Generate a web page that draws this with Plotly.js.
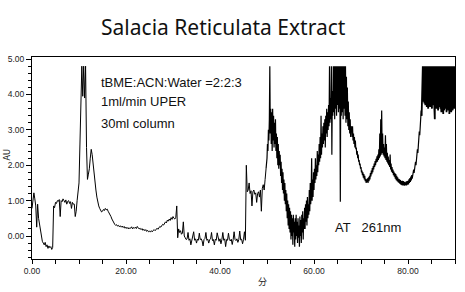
<!DOCTYPE html>
<html>
<head>
<meta charset="utf-8">
<script src="https://cdn.plot.ly/plotly-3.0.1.min.js"></script>
<style>
html,body{margin:0;padding:0;background:#fff;}
#chart{width:465px;height:292px;}
</style>
</head>
<body>
<div id="chart"></div>
<script>
// Tick values
var xTickValues = [0, 20, 40, 60, 80];
var yTickValues = [0, 1, 2, 3, 4, 5];

// Segment 1: 0.0 .. 49.8 min, one reading every 0.2 min (AU at 261 nm)
var seg1Start = 0, seg1Step = 0.2;
var absorbance1 = [
 0.78, 0.95, 1.22, 1.05, 0.85,   // 0
 0.25, 0.90, 0.50, 0.35, 0.10,   // 1
 -0.05, -0.15, -0.20, -0.25, -0.18, // 2
 -0.30, -0.25, -0.35, -0.28, -0.33, // 3
 -0.30, -0.38, -0.32, 0.85, 0.80, // 4
 0.95, 0.92, 1.00, 0.98, 1.03,   // 5
 0.55, 1.00, 0.97, 1.05, 1.00,   // 6
 0.95, 1.02, 0.90, 0.98, 1.00,   // 7
 0.92, 0.97, 0.78, 0.95, 0.90,   // 8
 0.90, 0.55, 0.70, 1.00, 1.35,   // 9
 1.50, 2.60, 3.90, 4.80, 3.95,   // 10
 4.80, 3.90, 4.80, 2.50, 1.60,   // 11
 1.75, 1.90, 2.20, 2.45, 2.30,   // 12
 2.00, 1.75, 1.50, 1.30, 1.10,   // 13
 0.95, 0.85, 0.78, 0.72, 0.68,   // 14
 0.70, 0.75, 0.72, 0.78, 0.74,   // 15
 0.76, 0.70, 0.66, 0.60, 0.55,   // 16
 0.48, 0.42, 0.38, 0.33, 0.30,   // 17
 0.32, 0.28, 0.30, 0.26, 0.29,   // 18
 0.25, 0.28, 0.24, 0.27, 0.22,   // 19
 0.25, 0.21, 0.24, 0.20, 0.23,   // 20
 0.22, 0.26, 0.20, 0.24, 0.22,   // 21
 0.25, 0.21, 0.27, 0.23, 0.20,   // 22
 0.22, 0.18, 0.21, 0.16, 0.19,   // 23
 0.15, 0.18, 0.13, 0.16, 0.12,   // 24
 0.14, 0.11, 0.15, 0.12, 0.16,   // 25
 0.18, 0.15, 0.20, 0.22, 0.19,   // 26
 0.24, 0.27, 0.25, 0.30, 0.33,   // 27
 0.31, 0.36, 0.40, 0.37, 0.45,   // 28
 0.42, 0.48, 0.44, 0.52, 0.47,   // 29
 0.55, 0.50, 0.48, 0.53, 0.85,   // 30
 -0.05, 0.20, 0.10, 0.15, 0.05,  // 31
 0.08, 0.40, 0.00, -0.05, -0.10, // 32
 -0.08, 0.10, -0.12, -0.08, -0.25, // 33
 -0.10, -0.06, 0.12, -0.12, -0.08, // 34
 -0.20, -0.09, -0.12, 0.08, -0.10, // 35
 -0.08, -0.14, -0.28, -0.10, -0.07, // 36
 0.10, -0.12, -0.09, -0.20, -0.10, // 37
 -0.08, 0.10, -0.13, -0.10, -0.25, // 38
 -0.09, -0.12, 0.09, -0.10, -0.15, // 39
 -0.08, -0.22, -0.10, 0.10, -0.12, // 40
 -0.08, -0.30, -0.10, -0.12, 0.08, // 41
 -0.10, -0.14, -0.09, -0.24, -0.10, // 42
 0.12, -0.10, -0.13, -0.08, -0.18, // 43
 -0.10, 0.14, -0.11, -0.09, -0.22, // 44
 -0.10, 0.12, -0.12, 2.00, 1.25, // 45
 1.30, 1.50, 1.20, 1.28, 0.85,   // 46
 1.25, 1.30, 1.18, 1.22, 0.95,   // 47
 1.20, 1.25, 1.10, 1.30, 0.70,   // 48
 1.35, 1.45, 1.30, 1.60, 1.90    // 49
];

// Segment 2: 49.8 .. 67.9 min, one reading every 0.1 min
var seg2Start = 49.8, seg2Step = 0.1;
var absorbance2 = [
 1.90, 2.05,                                           // 49.8
 2.20, 2.60, 2.40, 3.00, 2.70, 3.30, 4.80, 2.90, 3.60, 2.60, // 50
 3.50, 2.40, 3.60, 2.70, 3.40, 2.50, 3.20, 2.60, 3.30, 2.40, // 51
 2.90, 2.20, 2.80, 2.00, 2.60, 1.90, 2.40, 2.00, 2.30, 1.70, // 52
 2.10, 1.50, 1.90, 1.30, 1.80, 1.20, 1.60, 1.00, 1.50, 0.90, // 53
 1.30, 0.70, 1.20, 0.50, 1.00, 0.30, 0.90, 0.20, 0.80, 0.10, // 54
 0.70, -0.10, 0.60, 0.00, 0.50, -0.25, 0.60, 0.10, 0.40, -0.30, // 55
 0.50, -0.10, 0.60, 0.00, 0.40, -0.20, 0.50, -0.05, 0.30, -0.30, // 56
 0.55, 0.00, 0.45, -0.20, 0.60, 0.10, 0.70, -0.10, 0.50, 0.20, // 57
 0.80, 0.20, 0.90, 0.40, 1.00, 0.30, 1.10, 0.50, 0.90, 0.60, // 58
 1.30, 0.70, 1.50, 0.90, 1.20, 2.20, 1.00, 1.60, 1.10, 1.80, // 59
 1.30, 1.90, 1.50, 2.20, 1.60, 2.00, 1.70, 2.40, 1.80, 2.30, // 60
 2.00, 2.60, 2.10, 2.80, 2.20, 3.40, 2.30, 2.90, 2.50, 3.10, // 61
 2.60, 3.20, 2.70, 3.30, 2.50, 3.40, 2.90, 3.60, 2.80, 3.50, // 62
 3.00, 3.70, 3.10, 4.80, 3.20, 3.90, 3.30, 4.80, 2.30, 4.10, // 63
 3.40, 4.80, 3.50, 4.80, 3.30, 4.80, 3.60, 4.80, 3.40, 4.80, // 64
 3.70, 4.80, 3.50, 4.80, 3.60, 4.80, 0.97, 4.80, 3.40, 4.80, // 65
 3.50, 4.80, 3.30, 4.80, 3.60, 4.80, 3.40, 4.80, 3.20, 4.50, // 66
 3.30, 4.20, 3.10, 3.80, 3.00, 3.50, 2.90, 3.30, 2.80, 3.10  // 67
];

// Segment 3: 67.9 .. 82.9 min, one reading every 0.1 min
var seg3Start = 67.9, seg3Step = 0.1;
var absorbance3 = [
 3.10,                                                       // 67.9
 3.00, 2.80, 3.10, 2.70, 2.90, 2.60, 2.80, 2.50, 2.70, 2.45, // 68
 2.50, 2.30, 2.40, 2.20, 2.30, 2.10, 2.15, 2.00, 2.05, 1.90, // 69
 1.95, 1.80, 1.85, 1.72, 1.80, 1.65, 1.75, 1.60, 1.70, 1.55, // 70
 1.62, 1.50, 1.60, 1.52, 1.63, 1.50, 1.66, 1.55, 1.70, 1.60, // 71
 1.78, 1.68, 1.85, 1.75, 1.92, 1.80, 1.98, 1.88, 2.05, 1.95, // 72
 2.12, 2.00, 2.18, 2.08, 2.25, 2.10, 2.30, 2.15, 2.45, 2.20, // 73
 2.90, 2.25, 3.30, 2.30, 3.55, 2.35, 2.90, 2.30, 2.60, 2.25, // 74
 2.50, 2.20, 2.85, 2.15, 2.60, 2.10, 2.35, 2.05, 2.25, 2.00, // 75
 2.15, 1.95, 2.30, 1.88, 2.05, 1.82, 1.95, 1.78, 1.88, 1.72, // 76
 1.82, 1.68, 1.78, 1.62, 1.75, 1.58, 1.70, 1.55, 1.66, 1.52, // 77
 1.62, 1.50, 1.60, 1.47, 1.58, 1.45, 1.55, 1.44, 1.56, 1.43, // 78
 1.55, 1.43, 1.53, 1.42, 1.52, 1.44, 1.54, 1.43, 1.55, 1.45, // 79
 1.56, 1.46, 1.60, 1.50, 1.64, 1.53, 1.68, 1.57, 1.72, 1.62, // 80
 1.80, 1.70, 1.88, 1.78, 1.98, 1.88, 2.10, 2.00, 2.25, 2.15, // 81
 2.45, 2.35, 2.70, 2.60, 2.95, 2.85, 3.25, 3.10, 3.55, 3.40  // 82
];

// Segment 4: 82.9 .. 90.0 min, one reading every 0.05 min (detector saturated)
var seg4Start = 82.9, seg4Step = 0.05;
var absorbance4 = [
 3.40, 3.60,                                                 // 82.9
 3.85, 4.10, 4.40, 4.80, 3.90, 4.80, 3.80, 4.80, 3.95, 4.80, // 83.0
 3.75, 4.80, 3.85, 4.80, 3.70, 4.80, 3.90, 4.80, 3.80, 4.80, // 83.5
 3.65, 4.80, 3.85, 4.80, 3.75, 4.80, 3.60, 4.80, 3.80, 4.80, // 84.0
 3.70, 4.80, 3.90, 4.80, 3.65, 4.80, 3.80, 4.80, 3.70, 4.80, // 84.5
 3.85, 4.80, 3.60, 4.80, 3.75, 4.80, 3.90, 4.80, 3.70, 4.80, // 85.0
 3.80, 4.80, 3.65, 4.80, 3.30, 4.80, 3.75, 4.80, 3.85, 4.80, // 85.5
 3.70, 4.80, 3.60, 4.80, 3.80, 4.80, 3.70, 4.80, 3.55, 4.80, // 86.0
 3.75, 4.80, 3.85, 4.80, 3.65, 4.80, 3.80, 4.80, 3.60, 4.80, // 86.5
 3.70, 4.80, 3.50, 4.80, 3.75, 4.80, 3.60, 4.80, 3.80, 4.80, // 87.0
 3.45, 4.80, 3.70, 4.80, 3.55, 4.80, 3.75, 4.80, 3.60, 4.80, // 87.5
 3.80, 4.80, 3.65, 4.80, 3.50, 4.80, 3.75, 4.80, 3.60, 4.80, // 88.0
 3.70, 4.80, 3.55, 4.80, 3.80, 4.80, 3.45, 4.80, 3.70, 4.80, // 88.5
 3.60, 4.80, 3.75, 4.80, 3.50, 4.80, 3.65, 4.80, 3.80, 4.80, // 89.0
 3.55, 4.80, 3.70, 4.80, 3.85, 4.80, 3.60, 4.80, 3.90, 4.80, // 89.5
 3.70                                                        // 90.0
];

var chartTitle = 'Salacia Reticulata Extract';
var xTitle = '分';
var yTitle = 'AU';
var conditionLines = ['tBME:ACN:Water =2:2:3', '1ml/min UPER', '30ml column'];
var wavelengthLabel = 'AT\u00a0\u00a0\u00a0261nm';

function segTrace(start, step, values, width) {
  return {
    type: 'scatter', mode: 'lines',
    x0: start, dx: step, y: values,
    line: {color: '#000', width: width},
    hoverinfo: 'none'
  };
}
var traces = [
  segTrace(seg1Start, seg1Step, absorbance1, 1),
  segTrace(seg2Start, seg2Step, absorbance2, 1.2),
  segTrace(seg3Start, seg3Step, absorbance3, 1.2),
  segTrace(seg4Start, seg4Step, absorbance4, 1.8)
];

var annFont = {family: 'Liberation Sans, Arial, sans-serif', size: 13, color: '#111'};
var axisTitleFont = {family: 'Noto Sans CJK JP, sans-serif', size: 9, color: '#222'};
var annotations = [
  {text: conditionLines[0], xref: 'paper', yref: 'paper', x: 0.158, y: 0.876, xanchor: 'left', yanchor: 'middle', showarrow: false, font: annFont},
  {text: conditionLines[1], xref: 'paper', yref: 'paper', x: 0.158, y: 0.782, xanchor: 'left', yanchor: 'middle', showarrow: false, font: annFont},
  {text: conditionLines[2], xref: 'paper', yref: 'paper', x: 0.158, y: 0.673, xanchor: 'left', yanchor: 'middle', showarrow: false, font: annFont},
  {text: wavelengthLabel, xref: 'paper', yref: 'paper', x: 0.712, y: 0.158, xanchor: 'left', yanchor: 'middle', showarrow: false, font: annFont},
  {text: yTitle, xref: 'paper', yref: 'paper', x: -0.060, y: 0.515, xanchor: 'center', yanchor: 'middle', textangle: -90, showarrow: false, font: axisTitleFont},
  {text: xTitle, xref: 'paper', yref: 'paper', x: 0.544, y: -0.109, xanchor: 'center', yanchor: 'middle', showarrow: false, font: axisTitleFont}
];

var tickFont = {family: 'Liberation Sans, Arial, sans-serif', size: 8.5, color: '#222'};

var layout = {
  width: 465, height: 292,
  margin: {l: 32, r: 10, t: 57, b: 33, pad: 0},
  paper_bgcolor: '#fff', plot_bgcolor: '#fff',
  showlegend: false,
  title: {text: chartTitle, x: 0.48, xanchor: 'center', y: 0.905, yanchor: 'middle',
          font: {family: 'Noto Sans, sans-serif', size: 21, color: '#111'}},
  xaxis: {
    range: [0, 90], tickvals: xTickValues, tickformat: '.2f',
    showgrid: false, zeroline: false,
    showline: true, linecolor: '#000', linewidth: 1, mirror: true,
    ticks: 'outside', ticklen: 4, tickcolor: '#000', tickwidth: 1,
    minor: {dtick: 5, tick0: 0, ticks: 'outside', ticklen: 4, tickcolor: '#000', showgrid: false},
    tickfont: tickFont
  },
  yaxis: {
    range: [-0.65, 5.06], tickvals: yTickValues, tickformat: '.2f',
    showgrid: false, zeroline: false,
    showline: true, linecolor: '#000', linewidth: 1, mirror: true,
    ticks: 'outside', ticklen: 5, tickcolor: '#000', tickwidth: 1,
    minor: {dtick: 0.2, tick0: 0, ticks: 'outside', ticklen: 3, tickcolor: '#000', showgrid: false},
    tickfont: tickFont
  },
  annotations: annotations
};

Plotly.newPlot('chart', traces, layout, {staticPlot: true, displayModeBar: false});
</script>
</body>
</html>
